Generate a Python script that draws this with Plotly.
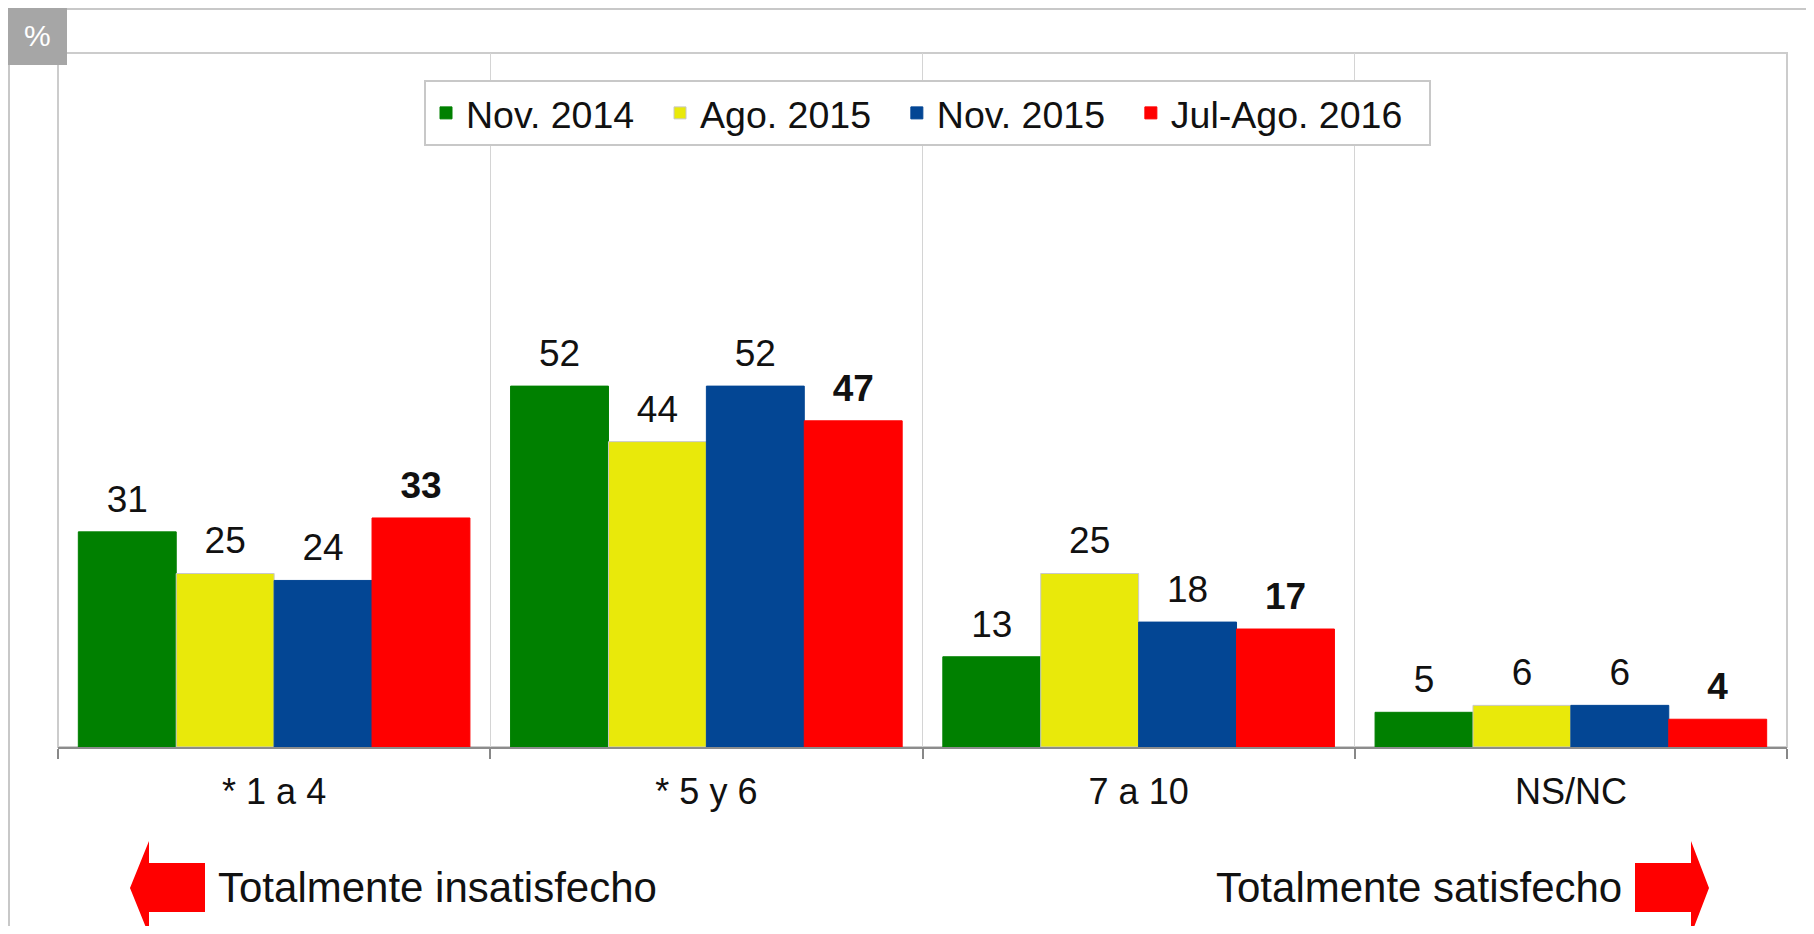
import plotly.graph_objects as go

# data
categories = ["* 1 a 4", "* 5 y 6", "7 a 10", "NS/NC"]
series_names = ["Nov. 2014", "Ago. 2015", "Nov. 2015", "Jul-Ago. 2016"]
nov_2014 = [31, 52, 13, 5]
ago_2015 = [25, 44, 25, 6]
nov_2015 = [24, 52, 18, 6]
jul_ago_2016 = [33, 47, 17, 4]
series_values = [nov_2014, ago_2015, nov_2015, jul_ago_2016]
bold_series = [False, False, False, True]

colors = ["#008000", "#E9E90A", "#034694", "#FF0000"]
edge_colors = ["#008000", "#C8C8C8", "#034694", "#FF0000"]
FONT = "Liberation Sans, Arial, sans-serif"

# the page body has an 8px margin, so the figure is drawn 8px in from the window edge
OFF = 8
W, H = 1814 - 2 * OFF, 934 - 2 * OFF
L, T = 58 - OFF, 53 - OFF
R = W - (1787 - OFF)
B = H - (747 - OFF)
PW = W - L - R
PH = H - T - B


def px(x):
    # window pixel -> paper fraction
    return (x - OFF - L) / PW


def py(y):
    return (H - B - (y - OFF)) / PH


def poly(points):
    return "M" + " L".join(f"{px(x):.5f},{py(y):.5f}" for x, y in points) + " Z"


fig = go.Figure()

pad = "\u00a0\u00a0"
for i, vals in enumerate(series_values):
    fig.add_trace(go.Bar(
        x=categories, y=vals, name=series_names[i] + pad,
        marker=dict(color=colors[i], line=dict(color=edge_colors[i], width=1)),
        offsetgroup=str(i), hoverinfo="skip",
    ))

# labels sit a little above the bars, like the original
for i, vals in enumerate(series_values):
    labels = [f"<b>{v}</b>" if bold_series[i] else str(v) for v in vals]
    fig.add_trace(go.Bar(
        x=categories, y=[1.3] * len(vals), base=vals,
        offsetgroup=str(i), showlegend=False, hoverinfo="skip",
        marker=dict(color="rgba(0,0,0,0)", line=dict(width=0)),
        text=labels, textposition="outside", constraintext="none",
        textfont=dict(family=FONT, size=37, color="#111111"),
        cliponaxis=False,
    ))

shapes = [
    # plot frame
    dict(type="rect", xref="paper", yref="paper", x0=0, x1=1, y0=0, y1=1,
         line=dict(color="#CCCCCC", width=2), layer="below"),
    # outer border
    dict(type="line", xref="paper", yref="paper", x0=px(7), x1=px(1814), y0=py(9), y1=py(9),
         line=dict(color="#C8C8C8", width=2)),
    dict(type="line", xref="paper", yref="paper", x0=px(9), x1=px(9), y0=py(7), y1=py(934),
         line=dict(color="#C8C8C8", width=2)),
    # % badge
    dict(type="rect", xref="paper", yref="paper", x0=px(8), x1=px(67), y0=py(8), y1=py(65),
         fillcolor="#A6A6A6", line=dict(width=0)),
    # arrows
    dict(type="path", xref="paper", yref="paper", fillcolor="#FF0000", line=dict(width=0),
         path=poly([(130, 888), (149, 841), (149, 863), (205, 863), (205, 912), (149, 912), (149, 935)])),
    dict(type="path", xref="paper", yref="paper", fillcolor="#FF0000", line=dict(width=0),
         path=poly([(1709, 888), (1691, 841), (1691, 863), (1635, 863), (1635, 912), (1691, 912), (1691, 935)])),
]

annotations = [
    dict(text="%", xref="paper", yref="paper", x=px(37), y=py(36), showarrow=False,
         xanchor="center", yanchor="middle", font=dict(family=FONT, size=30, color="white")),
    dict(text="Totalmente insatisfecho", xref="paper", yref="paper", x=px(216), y=py(887),
         showarrow=False, xanchor="left", yanchor="middle",
         font=dict(family=FONT, size=42, color="#111111")),
    dict(text="Totalmente satisfecho", xref="paper", yref="paper", x=px(1624), y=py(887),
         showarrow=False, xanchor="right", yanchor="middle",
         font=dict(family=FONT, size=42, color="#111111")),
]

fig.update_layout(
    width=W, height=H,
    margin=dict(l=L, r=R, t=T, b=B),
    paper_bgcolor="white", plot_bgcolor="white",
    barmode="group", bargap=0.094, bargroupgap=0,
    font=dict(family=FONT, color="#111111"),
    legend=dict(
        orientation="h", x=px(927.5), xanchor="center", y=py(80), yanchor="top",
        bgcolor="white", bordercolor="#C8C8C8", borderwidth=2,
        font=dict(family=FONT, size=37.5, color="#111111"),
        traceorder="normal",
    ),
    shapes=shapes,
    annotations=annotations,
    showlegend=True,
)

fig.update_xaxes(
    type="category", tickson="boundaries", ticks="outside", ticklen=10,
    tickwidth=2, tickcolor="#888888", showline=True, linecolor="#8C8C8C", linewidth=2,
    showgrid=True, gridcolor="#D4D4D4", gridwidth=1,
    tickfont=dict(family=FONT, size=36, color="#111111"), ticklabelstandoff=12,
    fixedrange=True,
)
fig.update_yaxes(range=[0, 100], visible=False, fixedrange=True)

fig.write_html("out.html")
